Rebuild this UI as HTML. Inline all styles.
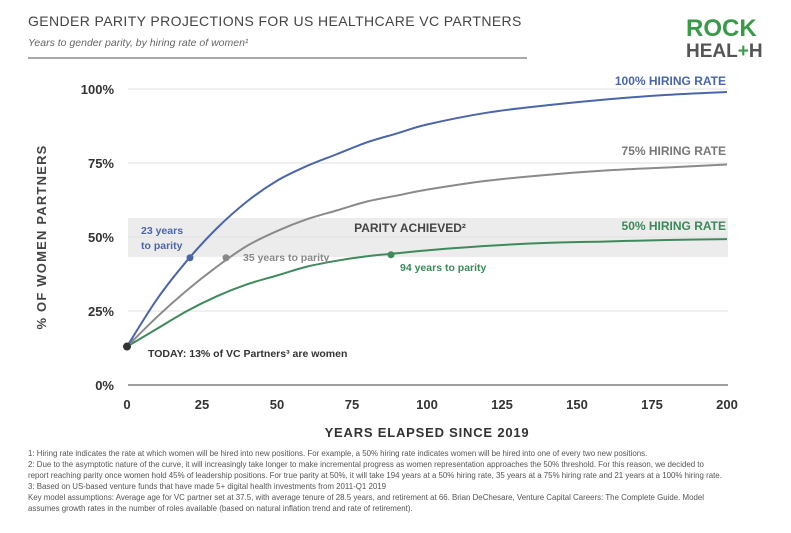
<!DOCTYPE html>
<html><head><meta charset="utf-8"><style>
body{margin:0;background:#fff;width:791px;height:528px;overflow:hidden;font-family:"Liberation Sans",sans-serif}
svg text{font-family:"Liberation Sans",sans-serif}
</style></head><body>
<svg width="791" height="528" viewBox="0 0 791 528">
<text x="28" y="26" font-size="14" fill="#444" letter-spacing="0.6" textLength="494">GENDER PARITY PROJECTIONS FOR US HEALTHCARE VC PARTNERS</text>
<text x="28" y="46" font-size="10.5" font-style="italic" fill="#666">Years to gender parity, by hiring rate of women¹</text>
<line x1="28" y1="58" x2="527" y2="58" stroke="#555" stroke-width="1"/>
<text x="686" y="36" font-size="24" font-weight="bold" fill="#3a9a4a">ROCK</text>
<text x="686" y="57" font-size="19" font-weight="bold" fill="#555">HEAL<tspan fill="#3a9a4a">+</tspan>H</text>
<rect x="128" y="218" width="600" height="39" fill="#ececec"/>
<g id="grid"></g>
<g id="curves"></g>
<text x="410" y="232" font-size="12" font-weight="bold" fill="#444" text-anchor="middle">PARITY ACHIEVED²</text>
<text x="726" y="85" font-size="12" font-weight="bold" fill="#4a66a8" text-anchor="end">100% HIRING RATE</text>
<text x="726" y="155" font-size="12" font-weight="bold" fill="#777" text-anchor="end">75% HIRING RATE</text>
<text x="726" y="230" font-size="12" font-weight="bold" fill="#3a8a5a" text-anchor="end">50% HIRING RATE</text>
<text x="141" y="234" font-size="10.5" font-weight="bold" fill="#4a66a8">23 years</text>
<text x="141" y="249" font-size="10.5" font-weight="bold" fill="#4a66a8">to parity</text>
<text x="243" y="261" font-size="10.5" font-weight="bold" fill="#888">35 years to parity</text>
<text x="400" y="271" font-size="10.5" font-weight="bold" fill="#3a8a5a">94 years to parity</text>
<text x="148" y="357" font-size="10.5" font-weight="bold" fill="#333">TODAY: 13% of VC Partners³ are women</text>
<text x="46" y="237" font-size="13" font-weight="bold" fill="#444" letter-spacing="1.2" text-anchor="middle" transform="rotate(-90 46 237)">% OF WOMEN PARTNERS</text>
<text x="427" y="437" font-size="13" font-weight="bold" fill="#333" letter-spacing="0.8" text-anchor="middle">YEARS ELAPSED SINCE 2019</text>
<g font-size="7.9" fill="#555">
<text x="28" y="456">1: Hiring rate indicates the rate at which women will be hired into new positions. For example, a 50% hiring rate indicates women will be hired into one of every two new positions.</text>
<text x="28" y="467">2: Due to the asymptotic nature of the curve, it will increasingly take longer to make incremental progress as women representation approaches the 50% threshold. For this reason, we decided to</text>
<text x="28" y="478">report reaching parity once women hold 45% of leadership positions. For true parity at 50%, it will take 194 years at a 50% hiring rate, 35 years at a 75% hiring rate and 21 years at a 100% hiring rate.</text>
<text x="28" y="489">3: Based on US-based venture funds that have made 5+ digital health investments from 2011-Q1 2019</text>
<text x="28" y="500">Key model assumptions: Average age for VC partner set at 37.5, with average tenure of 28.5 years, and retirement at 66. Brian DeChesare, Venture Capital Careers: The Complete Guide. Model</text>
<text x="28" y="511">assumes growth rates in the number of roles available (based on natural inflation trend and rate of retirement).</text>
</g>
</svg>
<script>
const years=[0,10,20,30,40,50,60,70,80,90,100,120,140,160,180,200];
const rate100=[13,29,42,53,62,69,74,78,82,85,88,92,94.5,96.5,98,99];
const rate75=[13,23,32,40,47,52,56,59,62,64,66,69,71,72.5,73.5,74.5];
const rate50=[13,19,25,30,34,37,40,42,43.5,44.5,45.5,47,48,48.5,49,49.3];
const yTicks=[0,25,50,75,100];
const xTicks=[0,25,50,75,100,125,150,175,200];
const markerYears=[21,33,88];
const markerVals=[43,43,44];
const NS="http://www.w3.org/2000/svg";
const X=v=>127+v*3, Y=v=>385-v*2.96;
function mk(t,a,p){const e=document.createElementNS(NS,t);for(const k in a)e.setAttribute(k,a[k]);p.appendChild(e);return e;}
const g=document.getElementById('grid'),c=document.getElementById('curves');
yTicks.forEach(v=>{
 const l=mk('line',{x1:128,x2:728,y1:Y(v),y2:Y(v),stroke:v?'#e2e2e2':'#666','stroke-width':v?1:1.2},g);
 
 
 const t=mk('text',{x:114,y:Y(v)+5,'font-size':13,'font-weight':'bold',fill:'#333','text-anchor':'end'},g);t.textContent=v+'%';
 
 
});
xTicks.forEach(v=>{
 const t=mk('text',{x:X(v),y:409,'font-size':13,'font-weight':'bold',fill:'#333','text-anchor':'middle'},g);t.textContent=v;
 
 
});
function path(vals,col,name){
 const pts=years.map((y,i)=>[X(y),Y(vals[i])]);
 let d='M'+pts[0];
 for(let i=0;i<pts.length-1;i++){const p0=pts[i-1]||pts[i],p1=pts[i],p2=pts[i+1],p3=pts[i+2]||p2;
  d+=` C${p1[0]+(p2[0]-p0[0])/6},${p1[1]+(p2[1]-p0[1])/6} ${p2[0]-(p3[0]-p1[0])/6},${p2[1]-(p3[1]-p1[1])/6} ${p2[0]},${p2[1]}`;}
 const e=mk('path',{d,fill:'none',stroke:col,'stroke-width':2},c);
 
 
}
path(rate50,'#3e8a5c','line-50-rate');
path(rate75,'#8a8a8a','line-75-rate');
path(rate100,'#4a66a8','line-100-rate');
const mcols=['#4a66a8','#888','#3e8a5c'];
markerYears.forEach((y,i)=>{
 const e=mk('circle',{cx:X(y),cy:Y(markerVals[i]),r:3.5,fill:mcols[i]},c);
 
 
});
const td=mk('circle',{cx:X(0),cy:Y(rate100[0]),r:4,fill:'#333'},c);


</script>
</body></html>
